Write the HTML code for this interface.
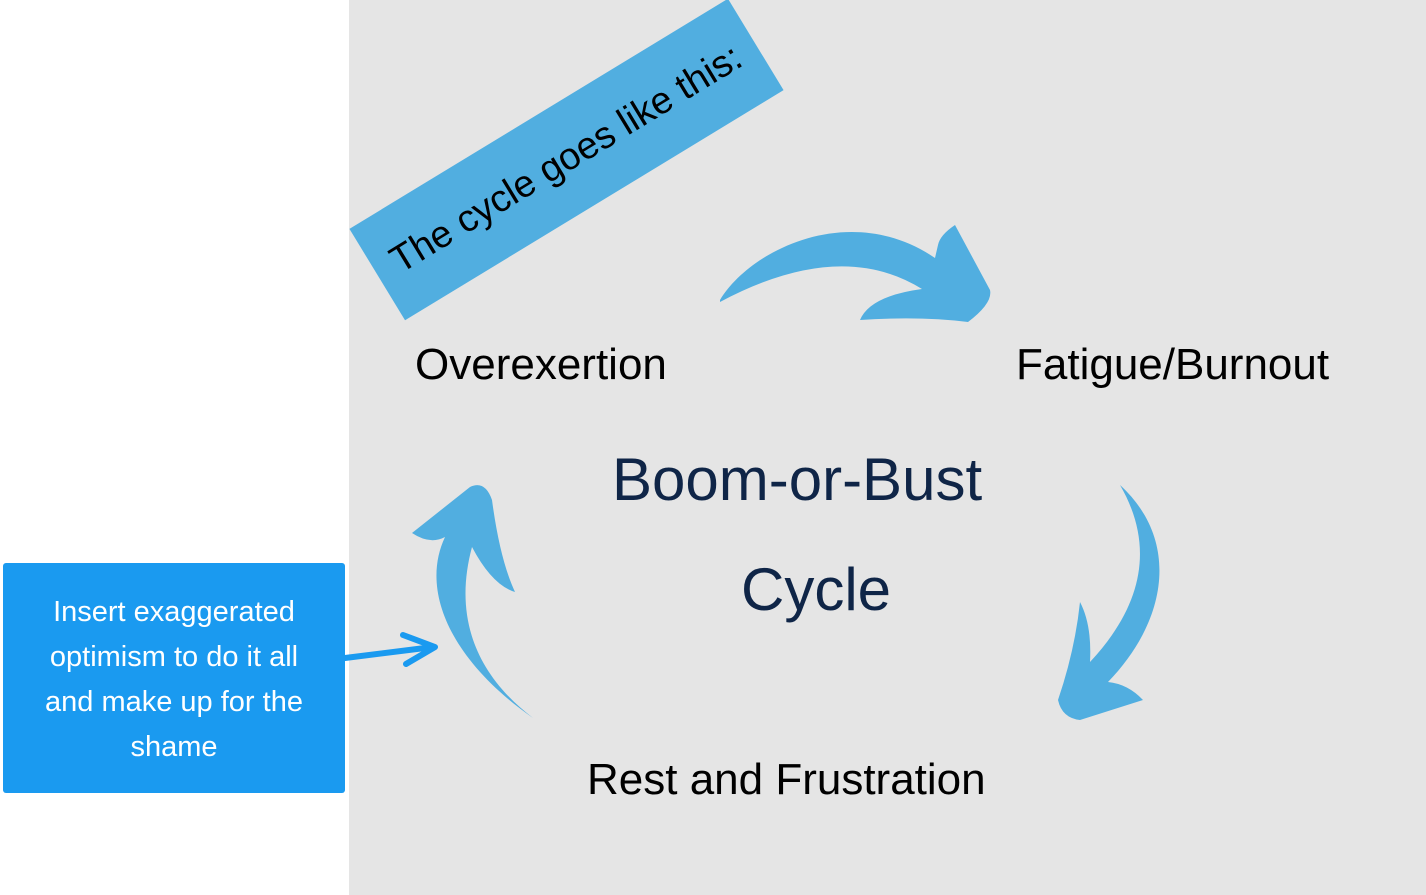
<!DOCTYPE html>
<html><head><meta charset="utf-8"><style>
html,body{margin:0;padding:0;width:1426px;height:895px;overflow:hidden;background:#fff;font-family:"Liberation Sans",sans-serif}
.panel{position:absolute;left:349px;top:0;width:1077px;height:895px;background:#e5e5e5}
.t{position:absolute;white-space:nowrap;color:#000}
.banner{position:absolute;left:345px;top:106px;width:443px;height:107px;background:#51aee0;transform:rotate(-31.3deg);transform-origin:center;display:flex;align-items:center;justify-content:center;font-size:38px;color:#000}
.box{position:absolute;left:3px;top:563px;width:342px;height:230px;background:#1a9af0;border-radius:3px;color:#fff;font-size:29px;line-height:45px;text-align:center;padding-top:27px;box-sizing:border-box}
</style></head><body>
<div class="panel"></div>
<div class="banner">The cycle goes like this:</div>
<svg width="1426" height="895" style="position:absolute;left:0;top:0">
<g fill="#51aee0">
<path d="M720,300 C750,250 850,200 935,258 L938,245 Q940,235 955,225 L990,290 Q993,303 968,322 Q920,316 860,320 Q870,296 922,289 Q840,238 720,302 Z"/>
<path d="M1120,485 C1180,540 1168,620 1108,682 Q1128,684 1143,700 L1080,720 Q1062,718 1058,700 Q1075,650 1080,602 Q1092,625 1090,662 C1148,600 1152,540 1120,485 Z"/>
<path d="M533,718 C450,660 420,590 445,537 Q430,545 412,533 L470,487 Q485,480 492,500 Q500,560 515,592 Q492,585 472,547 C455,610 470,670 533,718 Z"/>
</g>
<g stroke="#1a9af0" stroke-width="6" fill="none" stroke-linecap="round" stroke-linejoin="round">
<line x1="345" y1="658" x2="433" y2="647"/>
<polyline points="403,635 435,647 406,664"/>
</g>
</svg>
<div class="t" style="left:415px;top:340px;font-size:44px">Overexertion</div>
<div class="t" style="left:1016px;top:340px;font-size:44px">Fatigue/Burnout</div>
<div class="t" style="left:587px;top:755px;font-size:44px">Rest and Frustration</div>
<div class="t" style="left:612px;top:445px;font-size:60px;color:#0f2547">Boom-or-Bust</div>
<div class="t" style="left:741px;top:555px;font-size:60px;color:#0f2547">Cycle</div>
<div class="box">Insert exaggerated<br>optimism to do it all<br>and make up for the<br>shame</div>
</body></html>
